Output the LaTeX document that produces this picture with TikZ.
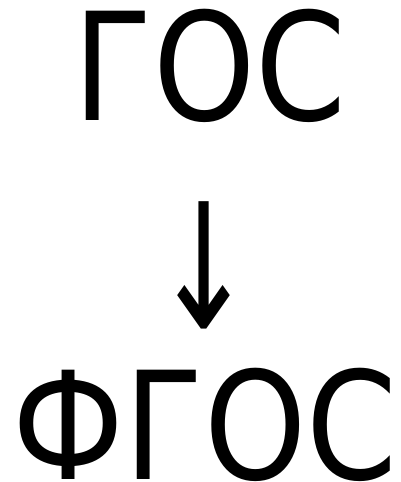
\documentclass[tikz,border=0pt]{standalone}
\usepackage{fontspec}
\setmainfont{DejaVu Sans}
\usepackage{tikz}

\begin{document}
\begin{tikzpicture}[x=1pt,y=1pt]
    \useasboundingbox (0,0) rectangle (401,482);
    \tikzset{big/.style={inner sep=0pt,anchor=base,font=\fontsize{150}{150}\selectfont}}
    % Labels
    \node[big] (old) at (210,361) {\scalebox{0.867}[1]{ГОС}};
    \node[big] (new) at (205,2) {\scalebox{0.867}[1]{ФГОС}};
    % Arrow
    \node[big,anchor=center] (arr) at (204,217) {\scalebox{0.82}[1.16]{↓}};
\end{tikzpicture}
\end{document}
